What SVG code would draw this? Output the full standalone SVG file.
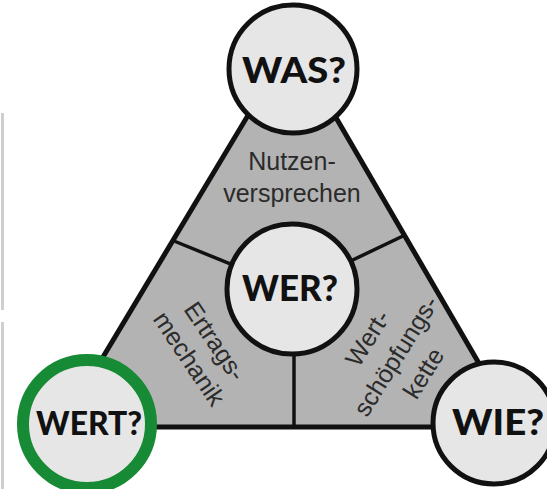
<svg xmlns="http://www.w3.org/2000/svg" width="547" height="489" viewBox="0 0 547 489">
<style>
.tri{fill:#b3b3b3;stroke:#111;stroke-width:5;stroke-linejoin:round}
.div{stroke:#111;stroke-width:3.5;fill:none}
.c{fill:#e6e6e6;stroke:#111;stroke-width:5}
.cg{fill:#e6e6e6;stroke:#168a34;stroke-width:12}
.q{font-family:Lato,"DejaVu Sans",sans-serif;font-weight:900;font-size:36px;fill:#111;text-anchor:middle}
.lbl{font-family:"Liberation Sans",Arial,sans-serif;font-size:25px;fill:#2b2b2b;text-anchor:middle}
.bar{fill:#cfcfcf}
</style>
<rect x="0" y="0" width="547" height="489" fill="#ffffff"/>
<rect class="bar" x="1" y="113" width="3" height="197"/>
<rect class="bar" x="1" y="322" width="3" height="167"/>
<g id="triangle">
<polygon class="tri" points="292,42 61,427 516,427"/>
</g>
<g id="connectors">
<line class="div" x1="174" y1="241" x2="292" y2="289"/>
<line class="div" x1="403" y1="236" x2="292" y2="289"/>
<line class="div" x1="294" y1="289" x2="294" y2="427"/>
</g>
<g id="label-nutzen">
<text class="lbl" x="292" y="170">Nutzen-</text>
<text class="lbl" x="292" y="202">versprechen</text>
</g>
<g id="label-ertrag" transform="translate(202,350) rotate(56)">
<text class="lbl" x="0" y="-7">Ertrags-</text>
<text class="lbl" x="0" y="24">mechanik</text>
</g>
<g id="label-wert" transform="translate(396,356) rotate(-58)">
<text class="lbl" x="0" y="-25">Wert-</text>
<text class="lbl" x="0" y="8.5">schöpfungs-</text>
<text class="lbl" x="0" y="41">kette</text>
</g>
<g id="node-was">
<circle class="c" cx="293" cy="69" r="64"/>
<text class="q" x="294" y="83" textLength="104" lengthAdjust="spacingAndGlyphs">WAS?</text>
</g>
<g id="node-wer">
<circle class="c" cx="292" cy="289" r="65"/>
<text class="q" x="290" y="301" textLength="96" lengthAdjust="spacingAndGlyphs">WER?</text>
</g>
<g id="node-wie">
<circle class="c" cx="494" cy="423" r="61"/>
<text class="q" x="498" y="435" textLength="92" lengthAdjust="spacingAndGlyphs">WIE?</text>
</g>
<g id="node-wert">
<circle class="cg" cx="87" cy="424" r="64"/>
<text class="q" x="89" y="435" style="font-size:33px" textLength="106" lengthAdjust="spacingAndGlyphs">WERT?</text>
</g>
</svg>
